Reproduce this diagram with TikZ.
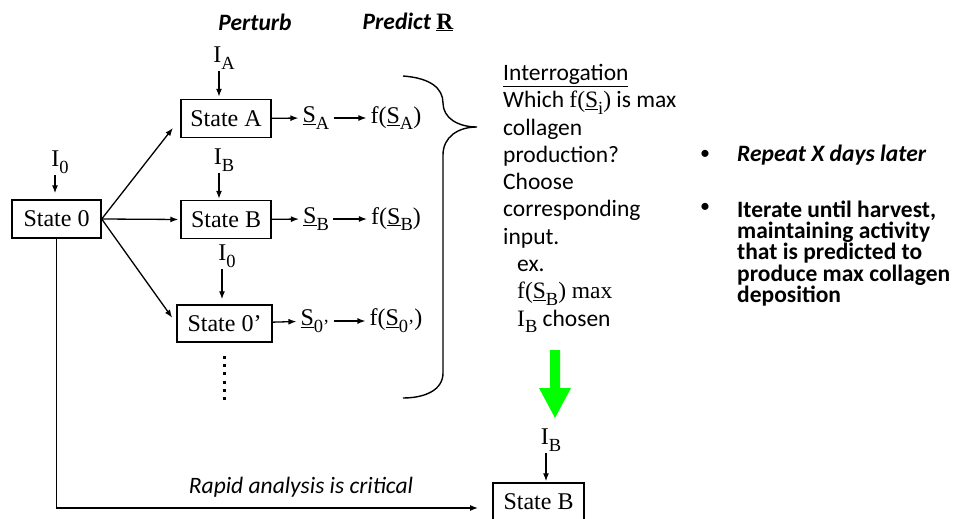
\documentclass[tikz,border=0pt]{standalone}
\usepackage{fontspec}
\setmainfont{Liberation Serif}
\newfontfamily\calfont{Carlito}
\usetikzlibrary{arrows.meta}
\definecolor{brightgreen}{RGB}{0,255,0}
\newcommand\sbs[1]{\raisebox{-0.28em}{\fontsize{18.5bp}{18.5bp}\selectfont #1}}
\newcommand\ulS{\underline{S}}
\begin{document}
\begin{tikzpicture}[x=1bp,y=-1bp,
  serif/.style={font=\fontsize{24bp}{26bp}\selectfont},
  box/.style={draw, line width=1.4bp, serif, inner sep=0pt, minimum height=38bp},
  lbl/.style={serif, inner sep=1.5bp},
  vec/.style={serif, inner sep=4bp},
  arr/.style={line width=1.3bp, -{Latex[length=8bp,width=6bp]}},
  caltext/.style={font=\calfont\fontsize{23.5bp}{27.3bp}\selectfont, inner sep=0pt},
  calhead/.style={font=\calfont\itshape\fontsize{23.5bp}{27bp}\selectfont, inner sep=0pt},
  calheadb/.style={font=\calfont\bfseries\itshape\fontsize{23.5bp}{27bp}\selectfont, inner sep=0pt},
  bul/.style={font=\calfont\bfseries\fontsize{23.5bp}{19bp}\selectfont, inner sep=0pt, align=left},
  buldot/.style={font=\calfont\fontsize{20bp}{20bp}\selectfont, inner sep=0pt},
]
\useasboundingbox (0,0) rectangle (959,519);

% state boxes
\node[box, minimum width=89bp] (s0) at (56.5,219) {State 0};
\node[box, minimum width=90bp] (sA) at (226,118.5) {State A};
\node[box, minimum width=90bp] (sB) at (226,219.5) {State B};
\node[box, minimum width=95bp, minimum height=37bp] (s0p) at (224.5,323.5) {State 0’};
\node[box, minimum width=91bp] (sBb) at (538.5,502) {State B};

% input labels
\node[lbl] (i0) at (60,162) {I\sbs{0}};
\node[lbl] (iA) at (224,58) {I\sbs{A}};
\node[lbl] (iB) at (224,160) {I\sbs{B}};
\node[lbl] (i0b) at (227,256) {I\sbs{0}};
\node[lbl] (iBb) at (551,440) {I\sbs{B}};

\draw[arr, shorten >=6bp] ([xshift=-5bp]i0.south) -- ([xshift=-5bp]i0.south |- s0.north);
\draw[arr, shorten >=2bp] ([xshift=-5bp]iA.south) -- ([xshift=-5bp]iA.south |- sA.north);
\draw[arr, shorten >=1bp] ([xshift=-5bp]iB.south) -- ([xshift=-5bp]iB.south |- sB.north);
\draw[arr, shorten >=5bp] ([xshift=-5bp]i0b.south) -- ([xshift=-5bp]i0b.south |- s0p.north);
\draw[arr, shorten >=1bp] ([xshift=-5bp]iBb.south) -- ([xshift=-5bp]iBb.south |- sBb.north);

% branches
\draw[arr, shorten >=12bp] (s0.east) -- (sA.west);
\draw[arr, shorten >=2bp] (s0.east) -- (sB.west);
\draw[arr, shorten >=7bp] (s0.east) -- (s0p.west);

% state vectors and predictions
\node[vec] (SA) at (316,118) {\ulS\sbs{A}};
\node[vec] (fA) at (396,118) {f(\ulS\sbs{A})};
\node[vec] (SB) at (316,219) {\ulS\sbs{B}};
\node[vec] (fB) at (396,219) {f(\ulS\sbs{B})};
\node[vec] (S0p) at (315,321) {\ulS\sbs{0’}};
\node[vec] (f0p) at (396,321) {f(\ulS\sbs{0’})};

\draw[arr] (sA) -- (SA);
\draw[arr] (SA) -- (fA);
\draw[arr] (sB) -- (SB);
\draw[arr] (SB) -- (fB);
\draw[arr] (s0p) -- (S0p);
\draw[arr] (S0p) -- (f0p);

% dots below State 0'
\draw[line width=3bp, dash pattern=on 3bp off 5.3bp] ([yshift=-13bp]s0p.south) -- ++(0,44);

% headings
\node[calheadb] (perturb) at (255,22) {Perturb};
\node[calheadb] (predict) at (408,22) {Predict {\upshape\rmfamily\bfseries\underline{R}}};

% brace
\draw[line width=1.4bp]
  (403,76) .. controls (430,78) and (443,88) .. (443,103)
  .. controls (443,118) and (458,127) .. (477,127)
  .. controls (458,127) and (443,137) .. (443,155)
  -- (443,373) .. controls (443,390) and (425,398) .. (403,398);

% interrogation text
\node[caltext, anchor=north west, align=left] (interr) at (503,64) {%
\underline{Interrogation}\\
Which {\rmfamily f(\ulS\sbs{i})} is max\\
collagen\\
production?\\
Choose\\
corresponding\\
input.\\
\hspace*{14bp}ex.\\
\hspace*{14bp}{\rmfamily f(\ulS\sbs{B}) max}\\
\hspace*{14bp}{\rmfamily I\sbs{B}} chosen};

% bullets
\node[buldot] (b1) at (705,155) {•};
\node[bul, anchor=west] (t1) at (737,155) {\itshape Repeat X days later};
\node[buldot] (b2) at (705,208) {•};
\node[bul, anchor=north west] (t2) at (737,201) {Iterate until harvest,\\maintaining activity\\that is predicted to\\produce max collagen\\deposition};

% green arrow
\fill[brightgreen] (550,350) -- (560,350) -- (560,388) -- (571,388) -- (555,418) -- (539,388) -- (550,388) -- cycle;

% rapid analysis path
\coordinate (rend) at (478,508);
\draw[arr] (s0.south) |- (rend);
\node[calhead] (rapid) at (301,487) {Rapid analysis is critical};
\end{tikzpicture}
\end{document}
